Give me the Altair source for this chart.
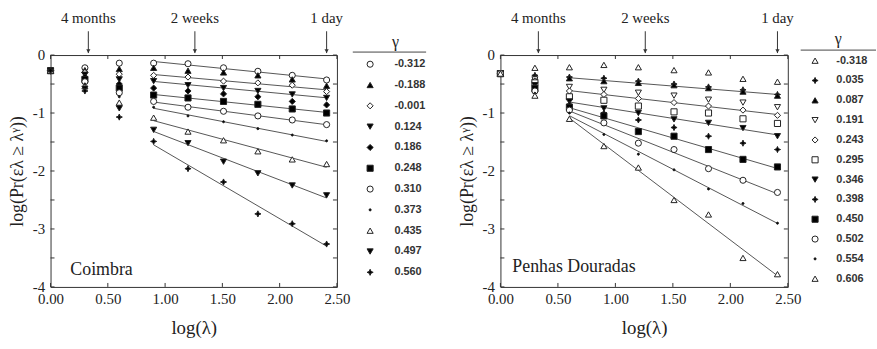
import altair as alt
import pandas as pd

# ---------------- data ----------------
X_LOG_LAMBDA = [0.00, 0.30, 0.60, 0.90, 1.20, 1.51, 1.81, 2.11, 2.41]

COIMBRA_GAMMA = ["-0.312", "-0.188", "-0.001", "0.124", "0.186", "0.248",
                 "0.310", "0.373", "0.435", "0.497", "0.560"]
COIMBRA_LOG_PR = [
    [-0.27, -0.22, -0.14, -0.14, -0.15, -0.22, -0.28, -0.35, -0.43],
    [-0.27, -0.26, -0.24, -0.22, -0.27, -0.30, -0.35, -0.42, -0.53],
    [-0.27, -0.30, -0.33, -0.35, -0.38, -0.45, -0.48, -0.52, -0.63],
    [-0.27, -0.34, -0.42, -0.45, -0.52, -0.57, -0.62, -0.68, -0.74],
    [-0.27, -0.38, -0.50, -0.57, -0.62, -0.67, -0.72, -0.80, -0.86],
    [-0.27, -0.42, -0.57, -0.69, -0.74, -0.80, -0.85, -0.93, -1.00],
    [-0.27, -0.46, -0.65, -0.80, -0.90, -0.97, -1.05, -1.12, -1.20],
    [-0.27, -0.50, -0.72, -0.90, -1.05, -1.15, -1.27, -1.38, -1.48],
    [-0.27, -0.54, -0.82, -1.08, -1.32, -1.47, -1.66, -1.80, -1.88],
    [-0.27, -0.58, -0.92, -1.29, -1.52, -1.84, -2.04, -2.25, -2.42],
    [-0.27, -0.62, -1.07, -1.49, -1.96, -2.19, -2.74, -2.91, -3.26],
]
COIMBRA_FITTED = ["-0.312", "-0.001", "0.124", "0.248", "0.310",
                  "0.373", "0.435", "0.497", "0.560"]

PENHAS_GAMMA = ["-0.318", "0.035", "0.087", "0.191", "0.243", "0.295",
                "0.346", "0.398", "0.450", "0.502", "0.554", "0.606"]
PENHAS_LOG_PR = [
    [-0.32, -0.22, -0.21, -0.17, -0.21, -0.26, -0.30, -0.41, -0.46],
    [-0.32, -0.35, -0.38, -0.40, -0.45, -0.50, -0.55, -0.60, -0.68],
    [-0.32, -0.38, -0.40, -0.45, -0.48, -0.52, -0.57, -0.63, -0.70],
    [-0.32, -0.42, -0.55, -0.60, -0.65, -0.70, -0.77, -0.82, -0.90],
    [-0.32, -0.45, -0.62, -0.68, -0.75, -0.82, -0.88, -0.95, -1.04],
    [-0.32, -0.48, -0.72, -0.78, -0.88, -0.98, -1.00, -1.10, -1.18],
    [-0.32, -0.52, -0.80, -0.92, -1.00, -1.11, -1.17, -1.26, -1.40],
    [-0.32, -0.55, -0.85, -1.00, -1.12, -1.25, -1.40, -1.52, -1.63],
    [-0.32, -0.58, -0.90, -1.05, -1.32, -1.40, -1.63, -1.80, -1.93],
    [-0.32, -0.62, -0.95, -1.17, -1.52, -1.63, -1.96, -2.16, -2.37],
    [-0.32, -0.66, -1.00, -1.37, -1.71, -1.98, -2.31, -2.56, -2.90],
    [-0.32, -0.70, -1.10, -1.57, -1.94, -2.50, -2.75, -3.50, -3.78],
]
PENHAS_FITTED = ["0.087", "0.243", "0.346", "0.450", "0.502", "0.554", "0.606"]

ARROW_X = [0.33, 1.26, 2.41]
ARROW_TEXT = ["4 months", "2 weeks", "1 day"]

X_TICKS = [0.0, 0.5, 1.0, 1.5, 2.0, 2.5]
Y_TICKS = [0.0, -0.5, -1.0, -1.5, -2.0, -2.5, -3.0, -3.5, -4.0]
Y_LABELS = [0, -1, -2, -3, -4]

# ---------------- styles ----------------
STAR = "M0,-1L0.3,-0.3L1,0L0.3,0.3L0,1L-0.3,0.3L-1,0L-0.3,-0.3Z"
DOT = "M0,-0.35A0.35,0.35 0 1,1 0,0.35A0.35,0.35 0 1,1 0,-0.35Z"
LEFT_STYLE = {
    "-0.312": ("circle", "white"),
    "-0.188": ("triangle-up", "black"),
    "-0.001": ("diamond", "white"),
    "0.124": ("triangle-down", "black"),
    "0.186": ("diamond", "black"),
    "0.248": ("square", "black"),
    "0.310": ("circle", "white"),
    "0.373": (DOT, "black"),
    "0.435": ("triangle-up", "white"),
    "0.497": ("triangle-down", "black"),
    "0.560": (STAR, "black"),
}
RIGHT_STYLE = {
    "-0.318": ("triangle-up", "white"),
    "0.035": (STAR, "black"),
    "0.087": ("triangle-up", "black"),
    "0.191": ("triangle-down", "white"),
    "0.243": ("diamond", "white"),
    "0.295": ("square", "white"),
    "0.346": ("triangle-down", "black"),
    "0.398": (STAR, "black"),
    "0.450": ("square", "black"),
    "0.502": ("circle", "white"),
    "0.554": (DOT, "black"),
    "0.606": ("triangle-up", "white"),
}

SERIF = "Liberation Serif"
SANS = "Liberation Sans"
INK = "#222222"


def panel(gammas, values, fitted, styles, fit_min, place, legend_x, legend_y,
          rule_x, rule_y, W, H):
    rows = []
    for g, vals in zip(gammas, values):
        for x, v in zip(X_LOG_LAMBDA, vals):
            rows.append({"gamma": g, "x": x, "y": v})
    df = pd.DataFrame(rows)

    xs = alt.Scale(domain=[0, 2.5], nice=False, zero=False)
    ys = alt.Scale(domain=[-4, 0], nice=False, zero=False)
    xaxis = alt.Axis(values=X_TICKS, format=".2f", ticks=False, domain=False, grid=False,
                     labelFont=SERIF, labelFontSize=15, labelColor=INK, labelPadding=5,
                     labelFlush=False, titleFont=SERIF, titleFontSize=19,
                     titleFontWeight="normal", titleColor=INK, titlePadding=12)
    yaxis = alt.Axis(values=Y_LABELS, labelExpr="'' + datum.value", ticks=False,
                     domain=False, grid=False, labelFont=SERIF, labelFontSize=15,
                     labelColor=INK, labelPadding=6, labelFlush=False,
                     titleFont=SERIF, titleFontSize=18, titleFontWeight="normal",
                     titleColor=INK, titlePadding=6)
    XT = "log(λ)"
    YT = "log(Pr(ελ ≥ λᵞ))"

    def X(f):
        return alt.X(f, type="quantitative", scale=xs, axis=xaxis, title=XT)

    def Y(f):
        return alt.Y(f, type="quantitative", scale=ys, axis=yaxis, title=YT)

    leg = alt.Legend(orient="none", legendX=legend_x, legendY=legend_y, title="γ",
                     titleFont=SERIF, titleFontSize=16, titleFontWeight="normal",
                     titleColor=INK, titleAnchor="middle", titlePadding=4,
                     labelFont=SANS, labelFontSize=11, labelFontWeight="bold",
                     labelColor="#333333", labelAlign="left", labelOffset=place["loff"],
                     clipHeight=place["row"], rowPadding=0, padding=0,
                     symbolStrokeWidth=1, symbolSize=38)

    shape_scale = alt.Scale(domain=gammas, range=[styles[g][0] for g in gammas])
    fill_scale = alt.Scale(domain=gammas, range=[styles[g][1] for g in gammas])
    stroke_scale = alt.Scale(domain=gammas, range=["#222222" for g in gammas])

    base = alt.Chart(df)
    fit = base.transform_filter(
        alt.FieldOneOfPredicate(field="gamma", oneOf=fitted)
    ).transform_filter(
        alt.datum.x >= fit_min
    ).transform_regression(
        "x", "y", groupby=["gamma"], extent=[fit_min, 2.41]
    ).mark_line(color="#555555", strokeWidth=1).encode(
        x=X("x"), y=Y("y"), detail="gamma:N"
    )

    pts = base.mark_point(filled=True, strokeWidth=1, opacity=1, size=38).encode(
        x=X("x"), y=Y("y"),
        shape=alt.Shape("gamma:N", scale=shape_scale, legend=leg),
        fill=alt.Fill("gamma:N", scale=fill_scale, legend=leg),
        stroke=alt.Stroke("gamma:N", scale=stroke_scale, legend=leg),
    )

    xt = alt.Chart(pd.DataFrame({"v": X_TICKS}))
    yt = alt.Chart(pd.DataFrame({"v": Y_TICKS}))
    tick_style = dict(color="#333333", strokeWidth=1)
    ticks = [
        xt.mark_rule(**tick_style).encode(x=X("v"), y=alt.value(H), y2=alt.value(H - 4)),
        xt.mark_rule(**tick_style).encode(x=X("v"), y=alt.value(0), y2=alt.value(4)),
        yt.mark_rule(**tick_style).encode(y=Y("v"), x=alt.value(0), x2=alt.value(4)),
        yt.mark_rule(**tick_style).encode(y=Y("v"), x=alt.value(W), x2=alt.value(W - 4)),
    ]

    ann = alt.Chart(pd.DataFrame({"x": ARROW_X, "label": ARROW_TEXT}))
    arrows = ann.mark_rule(color="#333333", strokeWidth=1).encode(
        x=X("x"), y=alt.value(-24), y2=alt.value(-2))
    heads = ann.mark_point(shape="triangle-down", filled=True, color="#333333",
                           size=18, opacity=1).encode(x=X("x"), y=alt.value(-4))
    labels = ann.mark_text(font=SERIF, fontSize=15, color=INK, baseline="middle").encode(
        x=X("x"), y=alt.value(-37), text="label:N")

    place_text = alt.Chart(pd.DataFrame({"t": [place["name"]]})).mark_text(
        font=SERIF, fontSize=18, color=INK, align="left", baseline="middle"
    ).encode(x=alt.value(place["x"]), y=alt.value(place["y"]), text="t:N")

    header_rule = alt.Chart(pd.DataFrame({"t": [0]})).mark_rule(
        color="#444444", strokeWidth=1
    ).encode(x=alt.value(rule_x[0]), x2=alt.value(rule_x[1]), y=alt.value(rule_y))

    return alt.layer(fit, pts, *ticks, arrows, heads, labels, place_text,
                     header_rule).properties(width=W, height=H)


left = panel(COIMBRA_GAMMA, COIMBRA_LOG_PR, COIMBRA_FITTED, LEFT_STYLE, 0.9,
             {"name": "Coimbra", "x": 20, "y": 217, "row": 20.5, "loff": 19},
             legend_x=317, legend_y=-21, rule_x=(305, 379), rule_y=-3, W=289, H=234)
right = panel(PENHAS_GAMMA, PENHAS_LOG_PR, PENHAS_FITTED, RIGHT_STYLE, 0.6,
              {"name": "Penhas Douradas", "x": 12, "y": 214, "row": 19.4, "loff": 16},
              legend_x=312, legend_y=-24, rule_x=(303, 379), rule_y=-5, W=290, H=234)

chart = alt.hconcat(left, right, spacing=165, bounds="flush").resolve_scale(
    x="independent", y="independent", shape="independent", fill="independent",
    stroke="independent"
).resolve_legend(shape="independent", fill="independent", stroke="independent").configure_view(
    stroke="#333333", strokeWidth=1
).properties(
    padding={"left": 8, "top": 9, "right": 0, "bottom": 0},
    background="white",
)

chart.save("out.html", embed_options={"renderer": "svg", "actions": False})
